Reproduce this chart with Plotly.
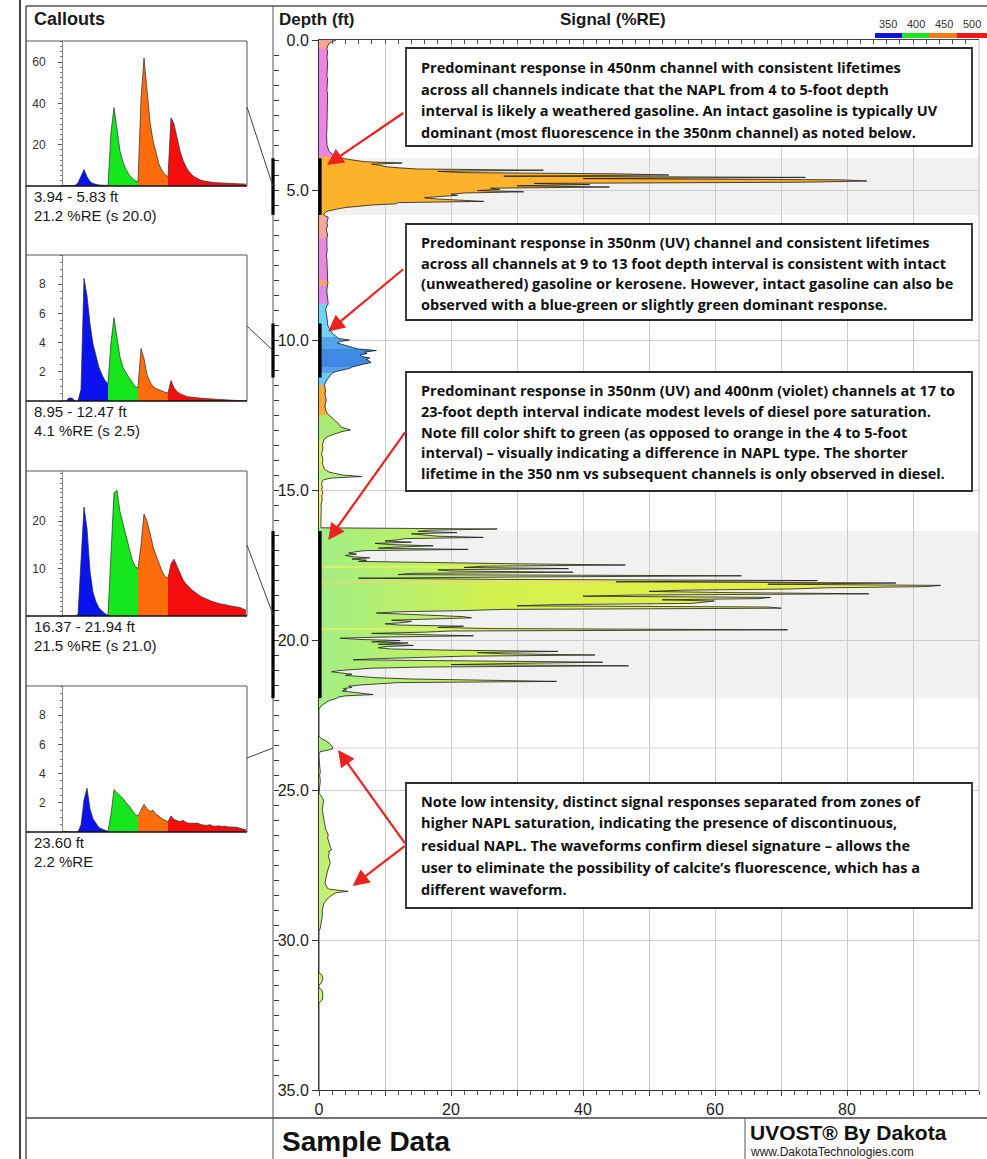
import plotly.graph_objects as go

W, H = 987, 1159

# ---------------- UVOST log: signal (%RE) against depth (ft) ----------------
upper_depth = [
    0.0, 0.1, 0.2, 0.3, 0.4, 0.5, 0.6, 0.7, 0.8, 0.9,
    1.0, 1.1, 1.2, 1.3, 1.4, 1.5, 1.6, 1.7, 1.8, 1.9,
    2.0, 2.1, 2.2, 2.3, 2.4, 2.5, 2.6, 2.7, 2.8, 2.9,
    3.0, 3.1, 3.2, 3.3, 3.4, 3.5, 3.6, 3.7, 3.8, 3.9,
    3.94, 3.98, 4.02, 4.06, 4.10, 4.14, 4.18, 4.22, 4.26, 4.30,
    4.34, 4.38, 4.42, 4.46, 4.50, 4.54, 4.58, 4.62, 4.66, 4.70,
    4.74, 4.78, 4.82, 4.86, 4.90, 4.94, 4.98, 5.02, 5.06, 5.10,
    5.14, 5.18, 5.22, 5.26, 5.30, 5.34, 5.38, 5.42, 5.46, 5.50,
    5.54, 5.58, 5.62, 5.66, 5.70, 5.74, 5.78, 5.82, 5.86,
    5.9, 6.0, 6.1, 6.2, 6.3, 6.4, 6.5, 6.6, 6.7, 6.8,
    6.9, 7.0, 7.1, 7.2, 7.3, 7.4, 7.5, 7.6, 7.7, 7.8,
    7.9, 8.0, 8.1, 8.2, 8.3, 8.4, 8.5, 8.6, 8.7, 8.8,
    8.9, 9.0, 9.1, 9.2, 9.3, 9.4, 9.5, 9.6, 9.7, 9.8,
    9.9, 9.95, 10.0, 10.05, 10.1, 10.15, 10.2, 10.25, 10.3, 10.35,
    10.4, 10.45, 10.5, 10.55, 10.6, 10.65, 10.7, 10.75, 10.8, 10.85,
    10.9, 10.95, 11.0, 11.05, 11.1, 11.15, 11.2, 11.3, 11.4, 11.5,
    11.6, 11.7, 11.8, 11.9, 12.0, 12.1, 12.2, 12.3, 12.4, 12.5,
    12.6, 12.7, 12.8, 12.9, 13.0, 13.05, 13.1, 13.2, 13.3,
    13.4, 13.5, 13.6, 13.7, 13.8, 13.9, 14.0, 14.1, 14.2, 14.3,
    14.4, 14.45, 14.5, 14.55, 14.6, 14.65, 14.7, 14.8, 14.9, 15.0,
    15.1, 15.2, 15.3, 15.4, 15.5, 15.6, 15.7, 15.8, 15.9, 16.0,
    16.1, 16.2,
]
upper_signal = [
    2.6, 1.6, 1.3, 1.2, 1.3, 1.25, 1.2, 1.3, 1.35, 1.3,
    1.25, 1.2, 1.2, 1.3, 1.25, 1.2, 1.15, 1.2, 1.3, 1.3,
    1.25, 1.2, 1.2, 1.25, 1.3, 1.3, 1.25, 1.2, 1.2, 1.25,
    1.2, 1.15, 1.2, 1.25, 1.2, 1.2, 1.3, 1.5, 2.0, 3.0,
    3.5, 4.5, 5.5, 7.0, 12.6, 8.0, 9.4, 10.0, 12.0, 15.0,
    34.0, 18.0, 22.0, 45.0, 53.0, 28.0, 73.7, 40.0, 79.0, 83.0,
    73.7, 32.6, 41.0, 30.0, 44.0, 26.0, 27.4, 24.0, 31.0, 22.0,
    20.0, 21.0, 18.0, 16.0, 18.0, 23.0, 25.0, 12.0, 11.7, 8.0,
    5.5, 4.2, 3.0, 1.9, 1.4, 1.0, 0.8, 0.7, 0.9,
    1.4, 1.3, 1.2, 1.3, 1.1, 1.2, 1.3, 1.2, 1.2, 1.1,
    1.2, 1.25, 1.2, 1.1, 1.2, 1.2, 1.3, 1.2, 1.2, 1.25,
    1.2, 1.3, 1.35, 1.25, 1.2, 1.2, 1.25, 1.3, 1.3, 1.4,
    1.1, 1.0, 1.1, 1.2, 1.2, 1.3, 1.3, 1.5, 1.8, 2.1,
    2.6, 3.0, 4.6, 3.2, 2.8, 3.5, 4.2, 5.1, 6.0, 8.7,
    6.9, 7.3, 6.2, 6.5, 7.7, 7.2, 7.6, 7.9, 6.8, 5.6,
    5.0, 4.6, 3.4, 2.6, 2.0, 1.8, 1.6, 1.3, 1.0, 0.85,
    0.9, 1.0, 0.9, 1.0, 1.1, 1.0, 0.9, 1.0, 1.1, 1.5,
    2.0, 2.6, 3.0, 3.3, 4.8, 3.5, 2.8, 1.5, 0.8,
    0.6, 0.5, 0.6, 0.5, 0.4, 0.5, 0.6, 0.5, 0.6, 0.8,
    1.5, 2.5, 3.5, 6.5, 2.0, 0.8, 0.5, 0.4, 0.5, 0.4,
    0.6, 0.4, 0.5, 0.4, 0.3, 0.35, 0.3, 0.3, 0.3, 0.3,
    0.3, 0.3,
]

diesel_depth = [
    16.26, 16.30, 16.34, 16.38, 16.42, 16.46, 16.50, 16.54, 16.58, 16.62,
    16.66, 16.70, 16.74, 16.78, 16.82, 16.86, 16.90, 16.94, 16.98, 17.02,
    17.06, 17.10, 17.14, 17.18, 17.22, 17.26, 17.30, 17.34, 17.38, 17.42,
    17.46, 17.50, 17.54, 17.58, 17.62, 17.66, 17.70, 17.74, 17.78, 17.82,
    17.86, 17.90, 17.94, 17.98, 18.02, 18.06, 18.10, 18.14, 18.18, 18.22,
    18.26, 18.30, 18.34, 18.38, 18.42, 18.46, 18.50, 18.54, 18.58, 18.62,
    18.66, 18.70, 18.74, 18.78, 18.82, 18.86, 18.90, 18.94, 18.98, 19.02,
    19.06, 19.10, 19.14, 19.18, 19.22, 19.26, 19.30, 19.34, 19.38, 19.42,
    19.46, 19.50, 19.54, 19.58, 19.62, 19.66, 19.70, 19.74, 19.78, 19.82,
    19.86, 19.90, 19.94, 19.98, 20.02, 20.06, 20.10, 20.14, 20.18, 20.22,
    20.26, 20.30, 20.34, 20.38, 20.42, 20.46, 20.50, 20.54, 20.58, 20.62,
    20.66, 20.70, 20.74, 20.78, 20.82, 20.86, 20.90, 20.94, 20.98, 21.02,
    21.06, 21.10, 21.14, 21.18, 21.22, 21.26, 21.30, 21.34, 21.38, 21.42,
    21.46, 21.50, 21.54, 21.58, 21.62, 21.66, 21.70, 21.74, 21.78, 21.82,
    21.86, 21.90, 21.94, 21.98, 22.02, 22.06, 22.10, 22.14, 22.18, 22.22,
    22.26, 22.30,
]
diesel_signal = [
    0.3, 27.0, 16.6, 15.0, 20.9, 14.0, 16.0, 18.0, 24.9, 13.0,
    12.0, 10.0, 14.0, 8.5, 11.0, 17.3, 12.0, 9.0, 22.6, 7.0,
    5.5, 4.5, 5.7, 4.0, 4.8, 7.7, 5.0, 7.2, 6.0, 16.0,
    30.0, 46.4, 25.0, 22.0, 37.8, 18.0, 20.0, 38.5, 14.0, 12.0,
    64.0, 30.0, 6.0, 28.0, 75.5, 45.0, 87.4, 68.0, 94.2, 92.0,
    77.0, 71.4, 55.0, 50.0, 62.0, 83.3, 48.0, 40.0, 68.4, 66.7,
    52.0, 59.9, 58.0, 56.5, 36.0, 30.0, 68.0, 70.0, 28.0, 22.0,
    12.0, 8.7, 13.0, 17.0, 21.8, 23.1, 16.0, 11.0, 14.0, 12.8,
    10.0, 12.0, 21.9, 18.0, 26.0, 71.0, 20.0, 16.0, 8.0, 15.0,
    23.4, 10.0, 3.2, 6.0, 12.3, 8.0, 13.5, 9.0, 14.3, 10.0,
    9.0, 11.0, 20.0, 36.2, 24.0, 28.0, 41.8, 22.0, 14.0, 9.0,
    5.2, 27.9, 43.0, 30.0, 20.0, 46.9, 16.0, 8.0, 5.0, 3.0,
    1.9, 3.5, 5.0, 4.0, 6.0, 9.0, 14.0, 24.0, 36.0, 12.0,
    8.0, 6.2, 4.5, 5.0, 3.7, 4.2, 3.5, 5.0, 6.5, 8.2,
    4.0, 3.0, 2.7, 2.0, 1.6, 1.2, 1.0, 0.7, 0.4, 0.3,
    0.1, 0.0,
]

lower_depth = [
    23.2, 23.28, 23.35, 23.45, 23.55, 23.62, 23.68, 23.72, 23.8,
    24.0, 24.2, 24.4, 24.5, 24.7, 24.9, 25.1,
    25.25, 25.35, 25.5, 25.65, 25.8, 25.95,
    26.1, 26.2, 26.3, 26.4, 26.5, 26.6, 26.7, 26.8, 26.9,
    27.0, 27.05, 27.1, 27.2, 27.3, 27.4, 27.5, 27.6, 27.7, 27.8, 27.9,
    28.0, 28.1, 28.2, 28.3, 28.38, 28.42, 28.5, 28.6, 28.7, 28.8, 28.9,
    29.0, 29.2, 29.4, 29.6, 29.7,
    31.1, 31.15, 31.3, 31.45, 31.5,
    31.6, 31.65, 31.8, 32.0, 32.1,
    35.0,
]
lower_signal = [
    0.0, 0.3, 1.0, 1.6, 2.0, 2.1, 1.2, 0.2, 0.0,
    0.0, 0.1, 0.2, 0.1, 0.2, 0.1, 0.0,
    0.5, 0.7, 0.6, 0.5, 0.6, 0.7,
    0.8, 0.9, 1.0, 1.2, 1.4, 1.3, 1.5, 1.6, 1.7,
    1.9, 1.4, 1.6, 1.4, 1.5, 1.7, 1.6, 1.4, 1.3, 1.2, 1.1,
    1.0, 0.9, 1.1, 1.4, 4.4, 2.6, 2.0, 1.4, 1.0, 0.7, 0.6,
    0.5, 0.5, 0.4, 0.2, 0.0,
    0.0, 0.4, 0.6, 0.3, 0.0,
    0.0, 0.4, 0.6, 0.5, 0.0,
    0.0,
]

depth_ft = upper_depth + diesel_depth + lower_depth
signal_re = upper_signal + diesel_signal + lower_signal
assert len(depth_ft) == len(signal_re)

# fill colour of the log by depth run: (from ft, to ft, colour or gradient name)
fill_runs = [
    (0.0, 0.3, "#f7a68f"),
    (0.3, 3.9, "#ec84e4"),
    (3.9, 5.86, "#fcb22a"),
    (5.86, 6.6, "#f5a59b"),
    (6.6, 8.0, "#e987e3"),
    (8.0, 8.2, "#f3a374"),
    (8.2, 8.8, "#d98ceb"),
    (8.8, 9.9, "#70d4f3"),
    (9.9, 11.1, "#55a3ea"),
    (10.3, 10.9, "#3f88e4"),
    (11.1, 11.5, "#68cbf1"),
    (11.5, 12.5, "#f8a93c"),
    (12.5, 13.3, "#a9ea74"),
    (13.3, 14.3, "#d6f166"),
    (14.3, 14.7, "#b4f07e"),
    (14.7, 16.26, "#f0f26c"),
    (16.26, 22.30, "diesel"),
    (18.06, 18.10, "#f8d276"),
    (17.54, 17.58, "#f1f45c"),
    (19.62, 19.66, "#f1f45c"),
    (23.2, 24.0, "#a9ec7a"),
    (24.0, 25.1, "#c8f070"),
    (25.1, 29.7, "residual"),
    (31.1, 32.1, "#cdf270"),
]
fill_gradients = {
    "diesel": dict(type="horizontal", start=0, stop=90,
                   colorscale=[[0, "#a2ee86"], [0.3, "#d2f24e"], [1, "#f3ee3a"]]),
    "residual": dict(type="horizontal", start=0, stop=4,
                     colorscale=[[0, "#b9f07c"], [1, "#e6f24a"]]),
}

# ---------------- callout intervals ----------------
callout_top = [3.94, 8.95, 16.37, 23.60]
callout_bottom = [5.83, 12.47, 21.94, 23.60]
callout_re = ["21.2 %RE (s 20.0)", "4.1 %RE (s 2.5)", "21.5 %RE (s 21.0)", "2.2 %RE"]
# depth-rail marker extent for each callout (ft); None = single depth
marker_top = [3.94, 9.45, 16.37, None]
marker_bottom = [5.83, 11.25, 21.94, None]
band_shaded = [True, False, True, False]

# ---------------- callout waveforms (signal vs time, ns) ----------------
wave_time = [
    0, 3, 6, 9, 12, 15, 18, 21, 24, 27, 30, 33, 36, 39, 42, 45,
    48, 51, 54, 57, 60, 63, 66, 69, 72, 75,
    78, 81, 84, 87, 90, 93, 96, 99, 102, 105,
    108, 111, 114, 117, 120, 123, 126, 129, 132, 135, 138, 141, 144, 147,
    150, 153, 156, 159, 162, 165, 168, 171, 174, 177, 180, 183,
]
channel_labels = ["350", "400", "450", "500"]
channel_start = [0, 45, 75, 105]
channel_end = [45, 75, 105, 183]

wave_1 = [
    0, 0, 0, 0, 0.3, 1.5, 5, 8, 4.5, 2.2, 1.2, 0.8, 0.5, 0.4, 0.3, 0.3,
    26, 38, 27, 17, 11.5, 8, 5.5, 3.8, 2.6, 2.0,
    42, 62, 46, 31, 22, 15.5, 10.5, 7.5, 5.5, 4.5,
    33, 30, 23, 17, 12.5, 9.2, 7, 5.3, 4.2, 3.4, 2.8, 2.4, 2.1, 1.9,
    1.7, 1.6, 1.5, 1.4, 1.4, 1.3, 1.2, 1.2, 1.1, 1.1, 1.0, 0.9,
]
wave_2 = [
    0, 0, 0.2, 0.2, 0, 0, 0.8, 8.4, 7.2, 5.3, 3.9, 3.0, 2.3, 1.8, 1.4, 1.2,
    4.0, 5.7, 4.2, 3.0, 2.3, 1.9, 1.6, 1.3, 1.0, 0.9,
    3.6, 2.9, 1.8, 1.3, 1.0, 0.85, 0.75, 0.65, 0.6, 0.55,
    1.4, 0.9, 0.65, 0.5, 0.4, 0.33, 0.28, 0.25, 0.22, 0.2, 0.18, 0.17, 0.16, 0.15,
    0.14, 0.13, 0.12, 0.11, 0.1, 0.09, 0.08, 0.07, 0.05, 0, 0, 0,
]
wave_3 = [
    0, 0, 0, 0, 0, 0.3, 12, 23, 18.5, 9.5, 5, 3, 1.7, 1, 0.5, 0.2,
    14, 26, 26.5, 22, 19.5, 17, 14, 12, 10.5, 10,
    15, 21.5, 20, 17.5, 14.7, 12.8, 11, 9.5, 8.3, 8,
    11, 12, 10.5, 8.7, 7.6, 6.8, 6.1, 5.5, 5, 4.5, 4.1, 3.8, 3.5, 3.2,
    3, 2.8, 2.6, 2.5, 2.4, 2.2, 2.1, 2, 1.9, 1.8, 1.5, 1.2,
]
wave_4 = [
    0, 0.05, 0, 0, 0, 0, 0.5, 2.2, 3, 1.6, 0.9, 0.55, 0.3, 0.2, 0.1, 0.05,
    1.2, 2.9, 2.7, 2.5, 2.3, 2.0, 1.8, 1.5, 1.2, 1.1,
    1.5, 1.9, 1.6, 1.4, 1.5, 1.2, 1.1, 0.9, 0.8, 0.7,
    1.1, 0.85, 0.75, 0.7, 0.8, 0.65, 0.6, 0.6, 0.55, 0.6, 0.5, 0.45, 0.45, 0.5,
    0.4, 0.4, 0.42, 0.38, 0.4, 0.35, 0.35, 0.3, 0.32, 0.25, 0.2, 0.15,
]
waveforms = [wave_1, wave_2, wave_3, wave_4]
wave_ymax = [70.2, 10, 30.6, 10]
wave_ticks = [[20, 40, 60], [2, 4, 6, 8], [10, 20], [2, 4, 6, 8]]
wave_minor = [2.5, 0.5, 1, 0.5]

# ---------------- styling / layout constants (pixels) ----------------
CH_COLORS = ["#0a12ee", "#14e81c", "#ff6c0c", "#f50e0e"]
LEGEND_COLORS = ["#1212e6", "#1ae41a", "#f7791a", "#f01818"]
PLOT_L, PLOT_R, PLOT_T, PLOT_B = 319, 979, 40, 1090
WAVE_L, WAVE_R, BOX_L = 63, 247, 26
wave_top_px = [41, 255, 471, 686]
wave_bottom_px = [186, 401, 616, 832]
link_start_px = [107, 326, 545, 758]
SANS = "Liberation Sans, Arial, sans-serif"
NOTE_FONT = "Open Sans, Lato, sans-serif"


def fx(px):
    return px / W


def fy(py):
    return 1 - py / H


def depth_px(d):
    return PLOT_T + (PLOT_B - PLOT_T) * d / 35.0


fig = go.Figure()

# ---- coloured fill of the log ----
for lo, hi, style in fill_runs:
    idx = [i for i, d in enumerate(depth_ft) if lo <= d <= hi]
    xs = [signal_re[i] for i in idx]
    ys = [depth_ft[i] for i in idx]
    kw = dict(x=xs, y=ys, mode="lines", line=dict(width=0), fill="tozerox",
              hoverinfo="skip", showlegend=False)
    if style in fill_gradients:
        kw["fillgradient"] = fill_gradients[style]
    else:
        kw["fillcolor"] = style
    fig.add_trace(go.Scatter(**kw))

# log outline
fig.add_trace(go.Scatter(x=signal_re, y=depth_ft, mode="lines",
                         line=dict(color="#1c1c1c", width=0.8),
                         hoverinfo="skip", showlegend=False))

# helper traces so the top tick axis and the left tick rail are drawn
fig.add_trace(go.Scatter(x=[0], y=[0], xaxis="x2", yaxis="y", mode="markers",
                         marker=dict(opacity=0), hoverinfo="skip", showlegend=False))
fig.add_trace(go.Scatter(x=[0], y=[0], xaxis="x", yaxis="y2", mode="markers",
                         marker=dict(opacity=0), hoverinfo="skip", showlegend=False))

# ---- waveform callouts ----
for k, wave in enumerate(waveforms):
    ax = str(3 + k)
    for c in range(4):
        i0 = wave_time.index(channel_start[c])
        i1 = wave_time.index(channel_end[c])
        fig.add_trace(go.Scatter(
            x=wave_time[i0:i1 + 1], y=wave[i0:i1 + 1],
            xaxis="x" + ax, yaxis="y" + ax, mode="lines",
            line=dict(color="#2a2a2a", width=0.7),
            fill="tozeroy", fillcolor=CH_COLORS[c],
            name=channel_labels[c], hoverinfo="skip", showlegend=False))

layout = dict(
    width=W, height=H, autosize=False,
    margin=dict(l=0, r=0, t=0, b=0, pad=0, autoexpand=False),
    paper_bgcolor="white", plot_bgcolor="white",
    showlegend=False,
    xaxis=dict(
        domain=[fx(PLOT_L), fx(PLOT_R)], range=[0, 100], anchor="y",
        automargin=False,
        tickmode="array", tickvals=[0, 10, 20, 30, 40, 50, 60, 70, 80, 90],
        ticktext=["0", "", "20", "", "40", "", "60", "", "80", ""],
        ticks="outside", ticklen=5, tickcolor="#444",
        showgrid=True, gridcolor="#cccccc", gridwidth=1,
        showline=True, linecolor="#333", linewidth=1, zeroline=False,
        tickfont=dict(family=SANS, size=16, color="#222"),
        minor=dict(tickmode="linear", tick0=0, dtick=2, ticks="outside",
                   ticklen=4, tickcolor="#555", showgrid=False),
    ),
    xaxis2=dict(
        overlaying="x", side="top", anchor="y", range=[0, 100], automargin=False,
        tickmode="linear", tick0=0, dtick=2, ticks="inside", ticklen=4,
        tickcolor="#555", showticklabels=False, showline=True,
        linecolor="#444", showgrid=False, zeroline=False,
    ),
    yaxis=dict(
        domain=[fy(PLOT_B), fy(PLOT_T)], range=[35, 0], anchor="x",
        automargin=False,
        tickmode="array", tickvals=[0, 5, 10, 15, 20, 25, 30, 35],
        ticktext=["0.0", "5.0", "10.0", "15.0", "20.0", "25.0", "30.0", "35.0"],
        ticks="outside", ticklen=6, tickcolor="#333",
        showgrid=True, gridcolor="#cccccc", gridwidth=1,
        showline=True, linecolor="#333", linewidth=1, zeroline=False,
        tickfont=dict(family=SANS, size=16, color="#222"),
    ),
    yaxis2=dict(
        overlaying="y", anchor="free", position=fx(273), side="left",
        automargin=False,
        range=[35, 0], tickmode="linear", tick0=0, dtick=0.5,
        ticks="inside", ticklen=5, tickcolor="#333",
        showticklabels=False, showline=False, showgrid=False, zeroline=False,
    ),
)

for k in range(4):
    ax = str(3 + k)
    layout["xaxis" + ax] = dict(
        domain=[fx(WAVE_L), fx(WAVE_R)], range=[0, 184], anchor="y" + ax,
        visible=False, fixedrange=True, automargin=False)
    layout["yaxis" + ax] = dict(
        domain=[fy(wave_bottom_px[k]), fy(wave_top_px[k])],
        range=[0, wave_ymax[k]], anchor="x" + ax, automargin=False,
        tickmode="array", tickvals=wave_ticks[k],
        ticks="outside", ticklen=4, tickcolor="#555", ticklabelstandoff=10,
        showline=True, linecolor="#888", linewidth=1,
        showgrid=False, zeroline=False,
        tickfont=dict(family=SANS, size=12, color="#333"),
        minor=dict(tickmode="linear", tick0=0, dtick=wave_minor[k],
                   ticks="outside", ticklen=2, tickcolor="#777"),
    )

fig.update_layout(**layout)

shapes = []


def pline(x0, y0, x1, y1, color="#444", width=1, layer="above"):
    shapes.append(dict(type="line", xref="paper", yref="paper",
                       x0=fx(x0), y0=fy(y0), x1=fx(x1), y1=fy(y1),
                       line=dict(color=color, width=width), layer=layer))


# page frame
pline(20, 0, 20, H, "#111", 1.6)
pline(BOX_L, 6, W, 6, "#555", 1.5)
pline(BOX_L, 6, BOX_L, H, "#555", 1.5)
pline(273, 6, 273, H, "#555", 1)
pline(BOX_L, 1118, W, 1118, "#444", 1.5)
pline(745, 1118, 745, H, "#555", 1)
pline(PLOT_R, PLOT_T, PLOT_R, PLOT_B, "#bdbdbd", 1)

# shaded callout intervals, rail markers and the single-depth callout line
for k in range(4):
    t, b = callout_top[k], callout_bottom[k]
    if band_shaded[k]:
        shapes.append(dict(type="rect", xref="x", yref="y", x0=0, x1=100, y0=t, y1=b,
                           fillcolor="#f1f1f1", line=dict(width=0), layer="below"))
    if marker_top[k] is not None:
        for xp in (273, 320):
            shapes.append(dict(type="line", xref="paper", yref="y",
                               x0=fx(xp), x1=fx(xp), y0=marker_top[k], y1=marker_bottom[k],
                               line=dict(color="#000", width=3.2), layer="above"))
    else:
        shapes.append(dict(type="line", xref="x", yref="y", x0=0, x1=100, y0=t, y1=t,
                           line=dict(color="#d6d6d6", width=1), layer="below"))

# waveform boxes and leader lines to the depth rail
for k in range(4):
    top, bot = wave_top_px[k], wave_bottom_px[k]
    pline(BOX_L, top, WAVE_R, top, "#555", 1)
    pline(WAVE_R, top, WAVE_R, bot, "#555", 1)
    pline(BOX_L, bot, WAVE_R, bot, "#111", 1.5)
    if marker_top[k] is not None:
        mid = (marker_top[k] + marker_bottom[k]) / 2
    else:
        mid = callout_top[k]
    pline(WAVE_R, link_start_px[k], 273, depth_px(mid), "#444", 1)

# channel legend bar
legend_px = [875, 902, 929, 957, 987]
for c in range(4):
    shapes.append(dict(type="rect", xref="paper", yref="paper",
                       x0=fx(legend_px[c]), x1=fx(legend_px[c + 1]),
                       y0=fy(38), y1=fy(33), fillcolor=LEGEND_COLORS[c],
                       line=dict(width=0)))

# note boxes
note_boxes = [(406, 48, 972, 146), (406, 224, 972, 320),
              (406, 372, 972, 491), (406, 783, 972, 908)]
for x0, y0, x1, y1 in note_boxes:
    shapes.append(dict(type="rect", xref="paper", yref="paper",
                       x0=fx(x0), x1=fx(x1), y0=fy(y1), y1=fy(y0),
                       fillcolor="white", line=dict(color="#2b2b2b", width=1.8),
                       layer="above"))

fig.update_layout(shapes=shapes)

ann = []


def text(x, y, s, size, bold=False, anchor="left", family=SANS, color="#1a1a1a"):
    ann.append(dict(xref="paper", yref="paper", x=fx(x), y=fy(y),
                    text=f"<b>{s}</b>" if bold else s, showarrow=False,
                    xanchor=anchor, yanchor="middle",
                    font=dict(family=family, size=size, color=color)))


text(32, 19, "Callouts", 18, True)
text(277, 19, "Depth (ft)", 17, True)
text(613, 19, "Signal (%RE)", 17, True, "center")
for c, cx in enumerate([888, 916, 944, 972]):
    text(cx, 24, channel_labels[c], 11, False, "center", color="#333")

for k in range(4):
    t, b = callout_top[k], callout_bottom[k]
    rng = f"{t:.2f} ft" if b == t else f"{t:.2f} - {b:.2f} ft"
    text(32, wave_bottom_px[k] + 10, rng, 15)
    text(32, wave_bottom_px[k] + 29, callout_re[k], 15)

note_text = [
    ["Predominant response in 450nm channel with consistent lifetimes",
     "across all channels indicate that the NAPL from 4 to 5-foot depth",
     "interval is likely a weathered gasoline. An intact gasoline is typically UV",
     "dominant (most fluorescence in the 350nm channel) as noted below."],
    ["Predominant response in 350nm (UV) channel and consistent lifetimes",
     "across all channels at 9 to 13 foot depth interval is consistent with intact",
     "(unweathered) gasoline or kerosene. However, intact gasoline can also be",
     "observed with a blue-green or slightly green dominant response."],
    ["Predominant response in 350nm (UV) and 400nm (violet) channels at 17 to",
     "23-foot depth interval indicate modest levels of diesel pore saturation.",
     "Note fill color shift to green (as opposed to orange in the 4 to 5-foot",
     "interval) \u2013 visually indicating a difference in NAPL type. The shorter",
     "lifetime in the 350 nm vs subsequent channels is only observed in diesel."],
    ["Note low intensity, distinct signal responses separated from zones of",
     "higher NAPL saturation, indicating the presence of discontinuous,",
     "residual NAPL. The waveforms confirm diesel signature \u2013 allows the",
     "user to eliminate the possibility of calcite\u2019s fluorescence, which has a",
     "different waveform."],
]
note_line_px = [[67, 89, 111, 132], [242, 263, 284, 304],
                [390, 411, 432, 453, 474], [801, 823, 845, 867, 889]]
for lines, ys in zip(note_text, note_line_px):
    for s, y in zip(lines, ys):
        text(419, y, s, 14.5, True, family=NOTE_FONT, color="#111")

text(280, 1141, "Sample Data", 28, True, color="#111")
text(748, 1132, "UVOST\u00ae By Dakota", 21, True, color="#111")
text(748, 1152, "www.DakotaTechnologies.com", 12, False, color="#222")

# red pointers: (head %RE, head ft, tail %RE, tail ft)
pointers = [
    (1.2, 4.17, 13.0, 2.4),
    (1.4, 9.72, 13.0, 7.6),
    (1.4, 16.67, 13.2, 13.03),
    (2.9, 23.67, 13.2, 26.83),
    (5.1, 28.2, 13.2, 26.83),
]
for hx, hy, tx, ty in pointers:
    ann.append(dict(x=hx, y=hy, xref="x", yref="y", ax=tx, ay=ty,
                    axref="x", ayref="y", text="", showarrow=True,
                    arrowhead=2, arrowsize=1.5, arrowwidth=2.2,
                    arrowcolor="#ee2020", standoff=0))

fig.update_layout(annotations=ann)

# pin the page to the figure size so the plot sits at the window origin
page_fix = (
    "document.documentElement.style.margin='0';"
    "document.body.style.margin='0';document.body.style.padding='0';"
    "var gd=document.getElementById('{plot_id}');"
    "Plotly.relayout(gd,{width:987,height:1159,autosize:false});"
)
fig.write_html("out.html", config={"responsive": False}, post_script=page_fix)
